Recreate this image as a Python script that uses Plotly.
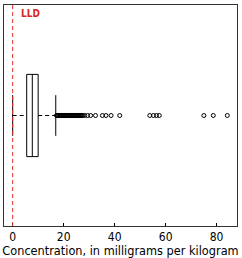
import plotly.graph_objects as go

# Box statistics (mg/kg)
lower_whisker = 0.0
q1 = 5.5
median = 7.7
q3 = 10.0
upper_whisker = 16.9
lld_value = 0.0

outliers = [17.2, 17.5, 17.8, 18.1, 18.4, 18.7, 19.0, 19.3, 19.6, 19.9,
            20.2, 20.5, 20.8, 21.1, 21.4, 21.7, 22.0, 22.3, 22.6, 22.9,
            23.2, 23.5, 23.8, 24.1, 24.4, 24.7, 25.0, 25.3, 25.6, 25.9,
            26.2, 26.5, 26.8, 27.1, 27.5, 28.3, 29.4, 30.6, 32.5,
            35.2, 36.6, 38.6, 42.0, 53.8, 55.2, 56.4, 57.5, 75.0, 78.7, 84.2]

x_ticks = [0, 20, 40, 60, 80]
x_title = "Concentration, in milligrams per kilogram"

yc = 0.5
box_h = 0.186
cap_h = 0.092

FONT = "DejaVu Sans Condensed, Roboto, sans-serif"

fig = go.Figure()
line_style = dict(color="black", width=1)

# Box outline
fig.add_trace(go.Scatter(
    x=[q1, q3, q3, q1, q1],
    y=[yc - box_h, yc - box_h, yc + box_h, yc + box_h, yc - box_h],
    mode="lines", line=line_style, fill="toself", fillcolor="white",
    hoverinfo="skip", showlegend=False))
# Median
fig.add_trace(go.Scatter(x=[median, median], y=[yc - box_h, yc + box_h],
                         mode="lines", line=line_style, showlegend=False))
# Dashed whiskers
fig.add_trace(go.Scatter(x=[lower_whisker, q1], y=[yc, yc], mode="lines",
                         line=dict(color="black", width=1, dash="4px,3px"), showlegend=False))
fig.add_trace(go.Scatter(x=[q3, upper_whisker], y=[yc, yc], mode="lines",
                         line=dict(color="black", width=1, dash="4px,3px"), showlegend=False))
# Caps
for v in [lower_whisker, upper_whisker]:
    fig.add_trace(go.Scatter(x=[v, v], y=[yc - cap_h, yc + cap_h], mode="lines",
                             line=line_style, showlegend=False))
# Outliers
fig.add_trace(go.Scatter(x=outliers, y=[yc] * len(outliers), mode="markers",
                         marker=dict(symbol="circle-open", size=4, color="black",
                                     line=dict(width=1, color="black")),
                         showlegend=False))

# LLD line
fig.add_shape(type="line", x0=lld_value, x1=lld_value, y0=0, y1=1, xref="x", yref="paper",
              line=dict(color="#e0302a", width=1, dash="4px,3px"))
fig.add_annotation(x=lld_value, y=1 - (13 - 4) / 223, xref="x", yref="paper",
                   yanchor="middle", xanchor="left", xshift=6, text="<b>LLD</b>", showarrow=False,
                   font=dict(family=FONT, size=10, color="#d9261c"))

fig.update_layout(
    width=242, height=258,
    margin=dict(l=4, r=5, t=4, b=31),
    paper_bgcolor="white", plot_bgcolor="white",
    font=dict(family=FONT, color="black", size=12),
    xaxis=dict(range=[-3.4, 88.0], tickvals=x_ticks, ticks="inside", ticklen=3, tickcolor="black",
               showline=True, linecolor="#333", linewidth=1, mirror=True, showgrid=False,
               zeroline=False, tickfont=dict(size=12),
               title=dict(text=x_title, font=dict(size=12.6), standoff=1)),
    yaxis=dict(range=[0, 1], showticklabels=False, ticks="", showline=True, linecolor="#333",
               linewidth=1, mirror=True, showgrid=False, zeroline=False),
)

fig.write_html("out.html")
